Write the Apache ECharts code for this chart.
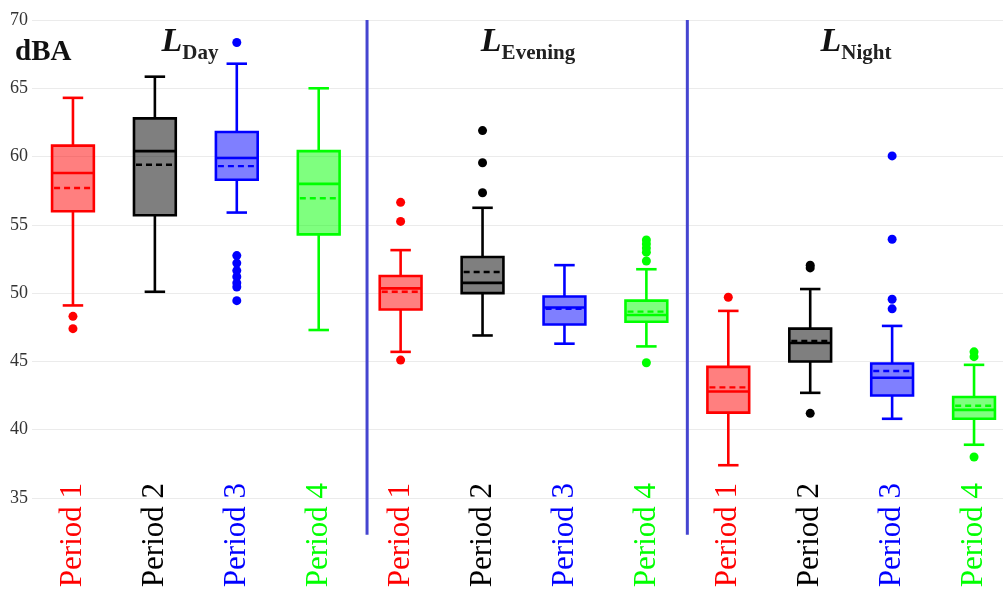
<!DOCTYPE html>
<html>
<head>
<meta charset="utf-8">
<script src="https://cdn.jsdelivr.net/npm/echarts@6/dist/echarts.min.js"></script>
<style>html,body{margin:0;padding:0;background:#fff;}#c{width:1003px;height:590px;}</style>
</head>
<body>
<div id="c"></div>
<script>
// ---- data ----
var categories = ['Period 1','Period 2','Period 3','Period 4','Period 1','Period 2','Period 3','Period 4','Period 1','Period 2','Period 3','Period 4'];
var whiskerLow  = [49.1, 50.1, 55.9, 47.3, 45.7, 46.9, 46.3, 46.1, 37.4, 42.7, 40.8, 38.9];
var q1          = [56.0, 55.7, 58.3, 54.3, 48.8, 50.0, 47.7, 47.9, 41.25, 45.0, 42.5, 40.8];
var median      = [58.8, 60.4, 59.9, 58.0, 50.35, 50.75, 48.95, 48.4, 42.8, 46.35, 43.8, 41.45];
var mean        = [57.7, 59.4, 59.3, 56.95, 50.1, 51.55, 48.85, 48.65, 43.1, 46.5, 44.3, 41.75];
var q3          = [60.8, 62.8, 61.8, 60.4, 51.25, 52.65, 49.75, 49.45, 44.6, 47.4, 44.85, 42.4];
var whiskerHigh = [64.3, 65.85, 66.8, 65.0, 53.15, 56.25, 52.05, 51.75, 48.7, 50.3, 47.6, 44.75];
var outliers = [
  [0, 48.3], [0, 47.4],
  [2, 68.35], [2, 52.75], [2, 52.2], [2, 51.65], [2, 51.2], [2, 50.75], [2, 50.45], [2, 49.45],
  [4, 56.65], [4, 55.25], [4, 45.1],
  [5, 61.9], [5, 59.55], [5, 57.35],
  [7, 53.9], [7, 53.6], [7, 53.3], [7, 53.0], [7, 52.35], [7, 44.9],
  [8, 49.7],
  [9, 52.05], [9, 51.85], [9, 41.2],
  [10, 60.05], [10, 53.95], [10, 49.55], [10, 48.85],
  [11, 45.7], [11, 45.35], [11, 38.0]
];
var yTicks = { min: 35, max: 70, interval: 5 };
var groupTitles = ['Day', 'Evening', 'Night'];
var separators = [3.59, 7.5];

// ---- style ----
var lineColors = ['#ff0000', '#000000', '#0000ff', '#00ff00'];
var fillColors = ['rgba(255,0,0,0.5)', 'rgba(0,0,0,0.5)', 'rgba(0,0,255,0.5)', 'rgba(0,255,0,0.5)'];
var serif = '"Liberation Serif","DejaVu Serif",serif';

var boxData = categories.map(function (c, i) {
  return [i, whiskerLow[i], q1[i], median[i], mean[i], q3[i], whiskerHigh[i]];
});

function renderBox(params, api) {
  var i = api.value(0);
  var col = lineColors[i % 4], fill = fillColors[i % 4];
  var band = api.size([1, 0])[0];
  var hw = band * 0.255, cw = band * 0.125;
  var x = api.coord([i, 0])[0];
  var yLow = api.coord([i, api.value(1)])[1];
  var yQ1 = api.coord([i, api.value(2)])[1];
  var yMed = api.coord([i, api.value(3)])[1];
  var yMean = api.coord([i, api.value(4)])[1];
  var yQ3 = api.coord([i, api.value(5)])[1];
  var yHigh = api.coord([i, api.value(6)])[1];
  var ls = { stroke: col, lineWidth: 2.6, fill: null };
  return {
    type: 'group',
    children: [
      { type: 'line', shape: { x1: x, y1: yQ3, x2: x, y2: yHigh }, style: ls },
      { type: 'line', shape: { x1: x, y1: yQ1, x2: x, y2: yLow }, style: ls },
      { type: 'line', shape: { x1: x - cw, y1: yHigh, x2: x + cw, y2: yHigh }, style: ls },
      { type: 'line', shape: { x1: x - cw, y1: yLow, x2: x + cw, y2: yLow }, style: ls },
      { type: 'rect', shape: { x: x - hw, y: yQ3, width: 2 * hw, height: yQ1 - yQ3 }, style: { fill: fill, stroke: col, lineWidth: 2.6 } },
      { type: 'line', shape: { x1: x - hw, y1: yMed, x2: x + hw, y2: yMed }, style: ls },
      { type: 'line', shape: { x1: x - hw + 2, y1: yMean, x2: x + hw - 2, y2: yMean }, style: { stroke: col, lineWidth: 2.4, lineDash: [6, 4] } }
    ]
  };
}

function renderSep(params, api) {
  var xv = api.value(0);
  var top = api.coord([xv, yTicks.max]);
  var bot = api.coord([xv, 32.3]);
  return { type: 'line', shape: { x1: top[0], y1: top[1], x2: bot[0], y2: bot[1] }, style: { stroke: '#4545d0', lineWidth: 3 } };
}

var titleCenters = [185, 523, 851];
var titles = groupTitles.map(function (t, k) {
  return {
    text: '{l|L}{s|' + t + '}',
    left: titleCenters[k], top: 20, textAlign: 'center',
    textStyle: {
      rich: {
        l: { fontFamily: serif, fontStyle: 'italic', fontSize: 34, color: '#111', verticalAlign: 'bottom', padding: [0, 0, 5, 0] },
        s: { fontFamily: serif, fontWeight: 'bold', fontSize: 21, color: '#222', verticalAlign: 'bottom' }
      }
    }
  };
});
titles.push({ text: 'dBA', left: 10, top: 33, textStyle: { fontFamily: serif, fontWeight: 'bold', fontSize: 29, color: '#111' } });

var chart = echarts.init(document.getElementById('c'), null, { renderer: 'canvas' });
chart.setOption({
  animation: false,
  backgroundColor: '#fff',
  title: titles,
  grid: { left: 32, right: -12, top: 20, bottom: 92, containLabel: false, outerBoundsMode: 'none' },
  xAxis: [{
    type: 'category', data: categories,
    axisLine: { show: false }, axisTick: { show: false }, splitLine: { show: false },
    axisLabel: {
      rotate: 90, margin: -15, interval: 0, fontFamily: serif, fontSize: 31,
      color: function (v, i) { return lineColors[i % 4]; }
    }
  }, {
    type: 'value', min: -0.5, max: 11.5, show: false
  }],
  yAxis: {
    type: 'value', min: yTicks.min, max: yTicks.max, interval: yTicks.interval,
    axisLine: { show: false }, axisTick: { show: false },
    splitLine: { lineStyle: { color: '#ebebeb', width: 1 } },
    axisLabel: { fontFamily: serif, fontSize: 18, color: '#333', margin: 4 }
  },
  series: [
    { type: 'custom', xAxisIndex: 1, renderItem: renderSep, data: separators.map(function (s) { return [s]; }), clip: false, silent: true, z: 1, encode: { x: 0 } },
    { type: 'custom', renderItem: renderBox, data: boxData, encode: { x: 0, y: [1, 2, 3, 4, 5, 6] }, z: 3 },
    {
      type: 'scatter', data: outliers, symbolSize: 9, z: 4,
      itemStyle: { color: function (p) { return lineColors[p.data[0] % 4]; }, opacity: 1 }
    }
  ]
});
</script>
</body>
</html>
